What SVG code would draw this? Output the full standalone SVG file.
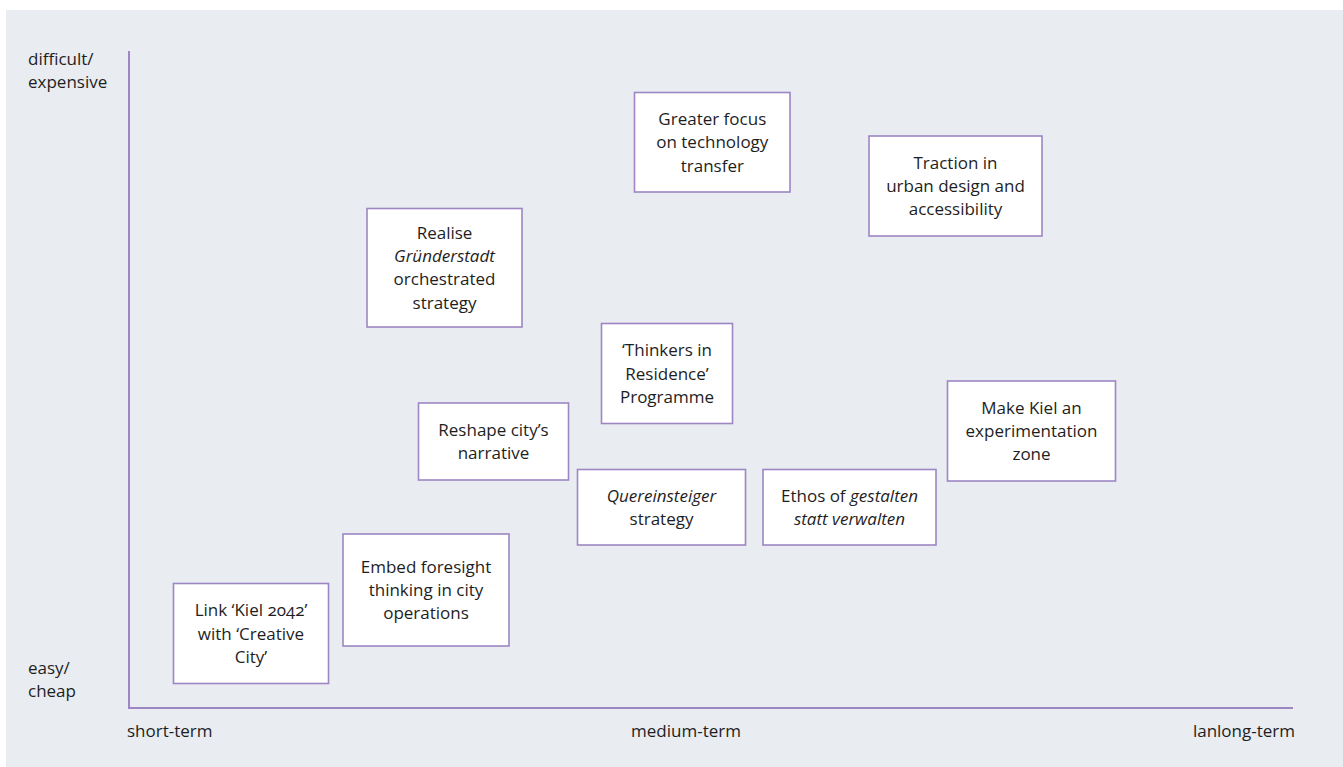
<svg xmlns="http://www.w3.org/2000/svg" width="1343" height="767" viewBox="0 0 1343 767">
<style>
  .bg{fill:#E9ECF1}
  .box{fill:#FFFFFF;stroke:#9D86C3;stroke-width:1.6}
  .axis{stroke:#9D86C3;stroke-width:2;fill:none}
  text{font-family:"Open Sans","Noto Sans","Liberation Sans",sans-serif;font-size:17px;fill:#1E1E1E}
  .c{text-anchor:middle}
  .i{font-style:italic}
  .onum{font-variant-numeric:oldstyle-nums}
</style>
<rect x="0" y="0" width="1343" height="767" fill="#FFFFFF"/>
<rect class="bg" x="6" y="10" width="1337" height="757"/>
<g id="axes">
  <line class="axis" x1="129" y1="51" x2="129" y2="708"/>
  <line class="axis" x1="128" y1="708" x2="1293" y2="708"/>
</g>
<g id="axis-labels">
  <text x="28" y="65">difficult/</text>
  <text x="28" y="88">expensive</text>
  <text x="28" y="674">easy/</text>
  <text x="28" y="697">cheap</text>
  <text x="127" y="737">short-term</text>
  <text class="c" x="686" y="737">medium-term</text>
  <text x="1295" y="737" text-anchor="end">lanlong-term</text>
</g>
<g id="connectors"></g>
<g id="n-greater">
  <rect class="box" x="634.5" y="92.5" width="155.5" height="99.5"/>
  <text class="c" x="712.3" y="124.9">Greater focus</text>
  <text class="c" x="712.3" y="148.2">on technology</text>
  <text class="c" x="712.3" y="171.5">transfer</text>
</g>
<g id="n-traction">
  <rect class="box" x="869" y="136" width="173" height="100"/>
  <text class="c" x="955.5" y="168.7">Traction in</text>
  <text class="c" x="955.5" y="192">urban design and</text>
  <text class="c" x="955.5" y="215.3">accessibility</text>
</g>
<g id="n-realise">
  <rect class="box" x="367" y="208.5" width="155" height="118.5"/>
  <text class="c" x="444.5" y="238.7">Realise</text>
  <text class="c i" x="444.5" y="262">Gründerstadt</text>
  <text class="c" x="444.5" y="285.3">orchestrated</text>
  <text class="c" x="444.5" y="308.6">strategy</text>
</g>
<g id="n-thinkers">
  <rect class="box" x="601.5" y="323.5" width="131" height="100"/>
  <text class="c" x="667" y="356.2">‘Thinkers in</text>
  <text class="c" x="667" y="379.5">Residence’</text>
  <text class="c" x="667" y="402.8">Programme</text>
</g>
<g id="n-reshape">
  <rect class="box" x="418.5" y="403" width="150" height="77"/>
  <text class="c" x="493.5" y="435.8">Reshape city’s</text>
  <text class="c" x="493.5" y="459.1">narrative</text>
</g>
<g id="n-makekiel">
  <rect class="box" x="947.5" y="381" width="168" height="100"/>
  <text class="c" x="1031.5" y="413.7">Make Kiel an</text>
  <text class="c" x="1031.5" y="437">experimentation</text>
  <text class="c" x="1031.5" y="460.3">zone</text>
</g>
<g id="n-quereinsteiger">
  <rect class="box" x="577.5" y="469.5" width="168" height="75.5"/>
  <text class="c i" x="661.5" y="501.6">Quereinsteiger</text>
  <text class="c" x="661.5" y="524.9">strategy</text>
</g>
<g id="n-ethos">
  <rect class="box" x="763" y="469.5" width="173" height="75.5"/>
  <text class="c" x="849.5" y="501.6">Ethos of <tspan class="i">gestalten</tspan></text>
  <text class="c i" x="849.5" y="524.9">statt verwalten</text>
</g>
<g id="n-embed">
  <rect class="box" x="343" y="534" width="166" height="112"/>
  <text class="c" x="426" y="572.7">Embed foresight</text>
  <text class="c" x="426" y="596">thinking in city</text>
  <text class="c" x="426" y="619.3">operations</text>
</g>
<g id="n-link">
  <rect class="box" x="173.5" y="583.5" width="155" height="100"/>
  <text class="c onum" x="251" y="616.2">Link ‘Kiel 2042’</text>
  <text class="c" x="251" y="639.5">with ‘Creative</text>
  <text class="c" x="251" y="662.8">City’</text>
</g>
</svg>
